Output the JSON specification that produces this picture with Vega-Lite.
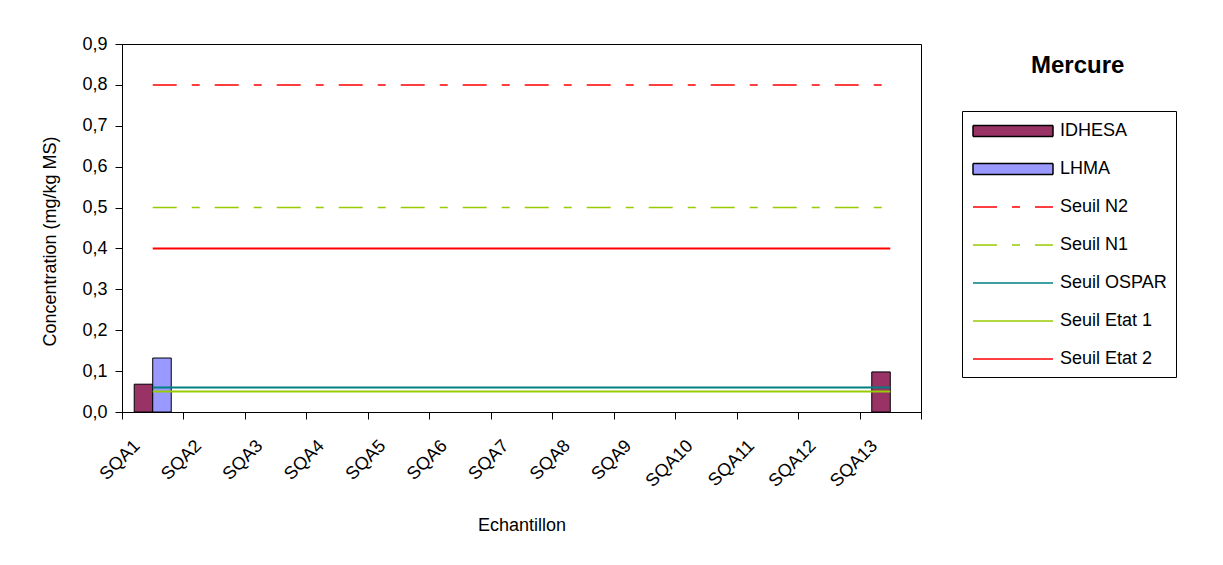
{
  "$schema": "https://vega.github.io/schema/vega-lite/v6.json",
  "width": 799,
  "height": 368,
  "autosize": {"type": "none"},
  "padding": {"left": 122, "top": 44, "right": 302, "bottom": 153},
  "background": "white",
  "config": {
    "font": "Liberation Sans",
    "view": {"stroke": "black", "strokeWidth": 1},
    "axis": {
      "labelFontSize": 18, "titleFontSize": 18, "labelColor": "black", "titleColor": "black",
      "domainColor": "black", "tickColor": "black", "titleFontWeight": "normal", "grid": false,
      "labelFont": "Liberation Sans", "titleFont": "Liberation Sans"
    },
    "legend": {"labelFont": "Liberation Sans", "labelFontSize": 18, "labelColor": "black"}
  },
  "title": {
    "text": "Mercure", "anchor": "start", "frame": "group", "dx": 909, "dy": 62, "offset": 0,
    "baseline": "alphabetic", "fontSize": 24, "fontWeight": "bold", "font": "Liberation Sans", "color": "black"
  },
  "datasets": {
    "mesures": [
      {"echantillon": "SQA1", "serie": "IDHESA", "valeur": 0.068},
      {"echantillon": "SQA1", "serie": "LHMA", "valeur": 0.132},
      {"echantillon": "SQA13", "serie": "IDHESA", "valeur": 0.098}
    ],
    "seuils": [
      {"echantillon": "SQA1", "serie": "Seuil N2", "valeur": 0.8},
      {"echantillon": "SQA2", "serie": "Seuil N2", "valeur": 0.8},
      {"echantillon": "SQA3", "serie": "Seuil N2", "valeur": 0.8},
      {"echantillon": "SQA4", "serie": "Seuil N2", "valeur": 0.8},
      {"echantillon": "SQA5", "serie": "Seuil N2", "valeur": 0.8},
      {"echantillon": "SQA6", "serie": "Seuil N2", "valeur": 0.8},
      {"echantillon": "SQA7", "serie": "Seuil N2", "valeur": 0.8},
      {"echantillon": "SQA8", "serie": "Seuil N2", "valeur": 0.8},
      {"echantillon": "SQA9", "serie": "Seuil N2", "valeur": 0.8},
      {"echantillon": "SQA10", "serie": "Seuil N2", "valeur": 0.8},
      {"echantillon": "SQA11", "serie": "Seuil N2", "valeur": 0.8},
      {"echantillon": "SQA12", "serie": "Seuil N2", "valeur": 0.8},
      {"echantillon": "SQA13", "serie": "Seuil N2", "valeur": 0.8},
      {"echantillon": "SQA1", "serie": "Seuil N1", "valeur": 0.5},
      {"echantillon": "SQA2", "serie": "Seuil N1", "valeur": 0.5},
      {"echantillon": "SQA3", "serie": "Seuil N1", "valeur": 0.5},
      {"echantillon": "SQA4", "serie": "Seuil N1", "valeur": 0.5},
      {"echantillon": "SQA5", "serie": "Seuil N1", "valeur": 0.5},
      {"echantillon": "SQA6", "serie": "Seuil N1", "valeur": 0.5},
      {"echantillon": "SQA7", "serie": "Seuil N1", "valeur": 0.5},
      {"echantillon": "SQA8", "serie": "Seuil N1", "valeur": 0.5},
      {"echantillon": "SQA9", "serie": "Seuil N1", "valeur": 0.5},
      {"echantillon": "SQA10", "serie": "Seuil N1", "valeur": 0.5},
      {"echantillon": "SQA11", "serie": "Seuil N1", "valeur": 0.5},
      {"echantillon": "SQA12", "serie": "Seuil N1", "valeur": 0.5},
      {"echantillon": "SQA13", "serie": "Seuil N1", "valeur": 0.5},
      {"echantillon": "SQA1", "serie": "Seuil OSPAR", "valeur": 0.06},
      {"echantillon": "SQA2", "serie": "Seuil OSPAR", "valeur": 0.06},
      {"echantillon": "SQA3", "serie": "Seuil OSPAR", "valeur": 0.06},
      {"echantillon": "SQA4", "serie": "Seuil OSPAR", "valeur": 0.06},
      {"echantillon": "SQA5", "serie": "Seuil OSPAR", "valeur": 0.06},
      {"echantillon": "SQA6", "serie": "Seuil OSPAR", "valeur": 0.06},
      {"echantillon": "SQA7", "serie": "Seuil OSPAR", "valeur": 0.06},
      {"echantillon": "SQA8", "serie": "Seuil OSPAR", "valeur": 0.06},
      {"echantillon": "SQA9", "serie": "Seuil OSPAR", "valeur": 0.06},
      {"echantillon": "SQA10", "serie": "Seuil OSPAR", "valeur": 0.06},
      {"echantillon": "SQA11", "serie": "Seuil OSPAR", "valeur": 0.06},
      {"echantillon": "SQA12", "serie": "Seuil OSPAR", "valeur": 0.06},
      {"echantillon": "SQA13", "serie": "Seuil OSPAR", "valeur": 0.06},
      {"echantillon": "SQA1", "serie": "Seuil Etat 1", "valeur": 0.05},
      {"echantillon": "SQA2", "serie": "Seuil Etat 1", "valeur": 0.05},
      {"echantillon": "SQA3", "serie": "Seuil Etat 1", "valeur": 0.05},
      {"echantillon": "SQA4", "serie": "Seuil Etat 1", "valeur": 0.05},
      {"echantillon": "SQA5", "serie": "Seuil Etat 1", "valeur": 0.05},
      {"echantillon": "SQA6", "serie": "Seuil Etat 1", "valeur": 0.05},
      {"echantillon": "SQA7", "serie": "Seuil Etat 1", "valeur": 0.05},
      {"echantillon": "SQA8", "serie": "Seuil Etat 1", "valeur": 0.05},
      {"echantillon": "SQA9", "serie": "Seuil Etat 1", "valeur": 0.05},
      {"echantillon": "SQA10", "serie": "Seuil Etat 1", "valeur": 0.05},
      {"echantillon": "SQA11", "serie": "Seuil Etat 1", "valeur": 0.05},
      {"echantillon": "SQA12", "serie": "Seuil Etat 1", "valeur": 0.05},
      {"echantillon": "SQA13", "serie": "Seuil Etat 1", "valeur": 0.05},
      {"echantillon": "SQA1", "serie": "Seuil Etat 2", "valeur": 0.4},
      {"echantillon": "SQA2", "serie": "Seuil Etat 2", "valeur": 0.4},
      {"echantillon": "SQA3", "serie": "Seuil Etat 2", "valeur": 0.4},
      {"echantillon": "SQA4", "serie": "Seuil Etat 2", "valeur": 0.4},
      {"echantillon": "SQA5", "serie": "Seuil Etat 2", "valeur": 0.4},
      {"echantillon": "SQA6", "serie": "Seuil Etat 2", "valeur": 0.4},
      {"echantillon": "SQA7", "serie": "Seuil Etat 2", "valeur": 0.4},
      {"echantillon": "SQA8", "serie": "Seuil Etat 2", "valeur": 0.4},
      {"echantillon": "SQA9", "serie": "Seuil Etat 2", "valeur": 0.4},
      {"echantillon": "SQA10", "serie": "Seuil Etat 2", "valeur": 0.4},
      {"echantillon": "SQA11", "serie": "Seuil Etat 2", "valeur": 0.4},
      {"echantillon": "SQA12", "serie": "Seuil Etat 2", "valeur": 0.4},
      {"echantillon": "SQA13", "serie": "Seuil Etat 2", "valeur": 0.4}
    ]
  },
  "encoding": {
    "x": {
      "field": "echantillon", "type": "nominal",
      "sort": ["SQA1","SQA2","SQA3","SQA4","SQA5","SQA6","SQA7","SQA8","SQA9","SQA10","SQA11","SQA12","SQA13"],
      "scale": {"domain": ["SQA1","SQA2","SQA3","SQA4","SQA5","SQA6","SQA7","SQA8","SQA9","SQA10","SQA11","SQA12","SQA13"], "paddingInner": 0, "paddingOuter": 0},
      "axis": {
        "title": "Echantillon", "labelAngle": -45, "labelAlign": "right", "labelBaseline": "middle",
        "tickBand": "extent", "tickSize": 7, "labelPadding": 24, "labelOffset": -16,
        "titleY": 113, "titleBaseline": "middle", "domain": true
      }
    },
    "y": {
      "field": "valeur", "type": "quantitative",
      "scale": {"domain": [0, 0.9], "nice": false},
      "axis": {
        "title": "Concentration (mg/kg MS)",
        "values": [0, 0.1, 0.2, 0.3, 0.4, 0.5, 0.6, 0.7, 0.8, 0.9],
        "labelExpr": "replace(format(datum.value, '.1f'), '.', ',')",
        "tickSize": 7, "labelPadding": 8,
        "titleX": -72, "titleY": 197, "titleAngle": -90, "titleBaseline": "middle", "titleAlign": "center"
      }
    },
    "color": {
      "field": "serie", "type": "nominal",
      "scale": {
        "domain": ["IDHESA", "LHMA", "Seuil N2", "Seuil N1", "Seuil OSPAR", "Seuil Etat 1", "Seuil Etat 2"],
        "range": ["#993366", "#9999FF", "#FF0000", "#99CC00", "#008080", "#99CC00", "#FF0000"]
      },
      "legend": {
        "title": null, "orient": "none", "legendX": 840, "legendY": 67,
        "strokeColor": "black", "padding": 9, "rowPadding": 18, "labelOffset": 36, "symbolOffset": 31,
        "symbolSize": 400, "symbolStrokeWidth": 1.5,
        "encode": {
          "symbols": {
            "update": {
              "shape": {"signal": "indexof(['IDHESA','LHMA'], datum.value) >= 0 ? 'M-4,-0.55H4V0.55H-4Z' : 'M-4,0H4'"},
              "size": {"value": 400},
              "strokeWidth": {"value": 1.5},
              "fill": {"signal": "indexof(['IDHESA','LHMA'], datum.value) >= 0 ? scale('color', datum.value) : 'transparent'"},
              "stroke": {"signal": "indexof(['IDHESA','LHMA'], datum.value) >= 0 ? '#000000' : scale('color', datum.value)"},
              "strokeDash": {"signal": "indexof(['Seuil N2','Seuil N1'], datum.value) >= 0 ? [24,15,8,15] : [1,0]"},
              "opacity": {"value": 1}
            }
          }
        }
      }
    }
  },
  "layer": [
    {
      "data": {"name": "mesures"},
      "mark": {"type": "bar", "stroke": "black", "strokeWidth": 1},
      "encoding": {
        "xOffset": {"field": "serie", "type": "nominal", "scale": {"domain": ["IDHESA", "LHMA"], "paddingInner": 0, "paddingOuter": 0.66}}
      }
    },
    {
      "data": {"name": "seuils"},
      "transform": [{"filter": "datum.serie == 'Seuil N2' || datum.serie == 'Seuil N1'"}],
      "mark": {"type": "line", "filled": true, "strokeWidth": 1.5, "strokeDash": [24, 15, 8, 15]},
      "encoding": {
        "stroke": {"field": "serie", "type": "nominal", "legend": null,
          "scale": {"domain": ["Seuil N2", "Seuil N1", "Seuil OSPAR", "Seuil Etat 1", "Seuil Etat 2"], "range": ["#FF0000", "#99CC00", "#008080", "#99CC00", "#FF0000"]}},
        "detail": {"field": "serie", "type": "nominal"}
      }
    },
    {
      "data": {"name": "seuils"},
      "transform": [{"filter": "datum.serie != 'Seuil N2' && datum.serie != 'Seuil N1'"}],
      "mark": {"type": "line", "filled": true, "strokeWidth": 2},
      "encoding": {
        "stroke": {"field": "serie", "type": "nominal", "legend": null,
          "scale": {"domain": ["Seuil N2", "Seuil N1", "Seuil OSPAR", "Seuil Etat 1", "Seuil Etat 2"], "range": ["#FF0000", "#99CC00", "#008080", "#99CC00", "#FF0000"]}},
        "detail": {"field": "serie", "type": "nominal"}
      }
    }
  ]
}
